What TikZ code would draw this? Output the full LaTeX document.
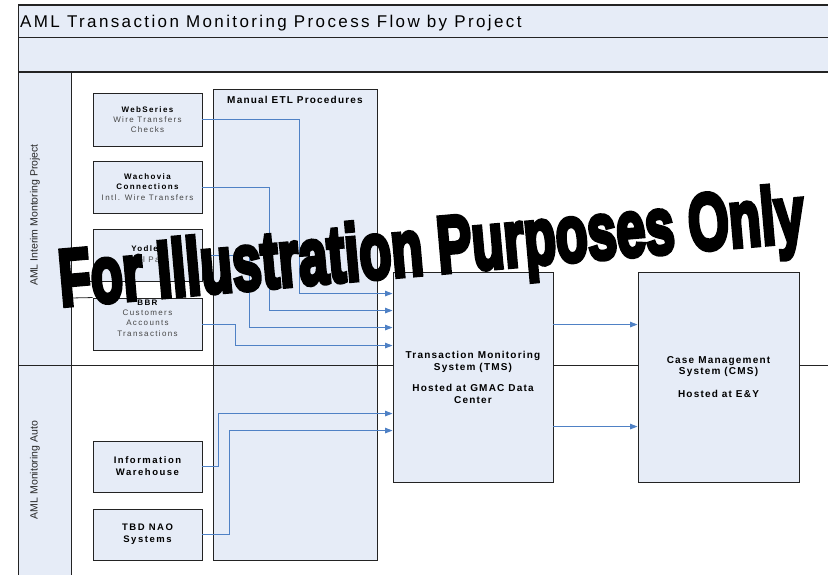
\documentclass[tikz,border=0pt]{standalone}
\usepackage{fontspec}
\setmainfont{Liberation Sans}
\newfontfamily\titlefont{Liberation Sans}[LetterSpace=14]
\newfontfamily\bigfont{Liberation Sans}[LetterSpace=12]
\newfontfamily\smallfont{Liberation Sans}[LetterSpace=17]
\newfontfamily\midfont{Liberation Sans}[LetterSpace=16]
\newfontfamily\wmfont{Liberation Sans}[BoldFeatures={FakeBold=6}]
\usetikzlibrary{arrows.meta,calc}

\definecolor{paleblue}{RGB}{230,236,247}
\definecolor{flowblue}{RGB}{79,129,197}
\definecolor{boxline}{RGB}{35,35,35}
\definecolor{subtext}{RGB}{70,70,70}

\begin{document}
\begin{tikzpicture}[x=1pt,y=-1pt,
  srcbox/.style={draw=boxline, fill=paleblue, line width=0.9pt, minimum width=109pt,
    minimum height=52pt, inner sep=0pt, align=center,
    font=\smallfont\fontsize{8}{10.3}\selectfont},
  midbox/.style={srcbox, font=\midfont\bfseries\fontsize{9.5}{12}\selectfont},
  sysbox/.style={draw=boxline, fill=paleblue, line width=0.9pt, minimum width=160pt,
    minimum height=210pt, inner sep=0pt, align=center,
    font=\bigfont\bfseries\fontsize{10}{12}\selectfont},
  lanelabel/.style={rotate=90, font=\fontsize{10.5}{12}\selectfont, text=black!85},
  flow/.style={draw=flowblue, line width=0.9pt, -{Triangle[length=7.5pt,width=5.5pt]}},
  frame/.style={draw=boxline, line width=1pt}]

\useasboundingbox (0,0) rectangle (828,575);

% header bands and lane header column
\fill[paleblue] (18,5) rectangle (828,72);
\fill[paleblue] (18,72) rectangle (71,575);
\draw[frame, line width=1.3pt] (18,5) -- (828,5);
\draw[frame] (18,38) -- (828,38);
\draw[frame, line width=1.3pt] (18,72) -- (828,72);
\draw[frame] (18,5) -- (18,575);
\draw[frame] (71,72) -- (71,575);

\node[anchor=base west, inner sep=0pt, font=\titlefont\fontsize{17}{17}\selectfont]
  (title) at (20,27.5) {AML Transaction Monitoring Process Flow by Project};

% lane labels
\node[lanelabel] (lane1) at (35,215) {AML Interim Montoring Project};
\node[lanelabel] (lane2) at (35,470) {AML Monitoring Auto};

% manual ETL container
\node[draw=boxline, fill=paleblue, line width=0.9pt, minimum width=164pt,
  minimum height=471pt, inner sep=0pt] (etl) at (295,324.5) {};
\node[font=\bigfont\bfseries\fontsize{10}{12}\selectfont] (etltitle)
  at ($(etl.north)+(0,11)$) {Manual ETL Procedures};

% lane divider
\draw[frame] (18,365) -- (828,365);

% source systems
\node[srcbox, minimum height=53pt] (web) at (147.5,119.5)
  {{\bfseries WebSeries}\\ {\color{subtext}Wire Transfers}\\ {\color{subtext}Checks}};
\node[srcbox] (wach) at (147.5,187)
  {{\bfseries Wachovia}\\ {\bfseries Connections}\\ {\color{subtext}Intl. Wire Transfers}};
\node[srcbox] (yod) at (147.5,255)
  {{\bfseries Yodlee}\\ {\color{subtext}Bill Pay}};
\node[srcbox] (bbr) at (147.5,324)
  {{\bfseries BBR}\\ {\color{subtext}Customers}\\ {\color{subtext}Accounts}\\ {\color{subtext}Transactions}\\[2pt]};
\node[midbox, minimum height=51pt] (iw) at (147.5,466.5) {Information\\ Warehouse};
\node[midbox, minimum height=51pt] (tbd) at (147.5,534.5) {TBD NAO\\ Systems};

% short rules between the lane header and the lower source boxes
\draw[frame, line width=0.8pt] (71,281) -- (yod.south west);
\draw[frame, line width=0.8pt] (71,298) -- (bbr.north west);

% monitoring and case systems
\node[sysbox] (tms) at (473,377)
  {Transaction Monitoring\\ System (TMS)\\[9pt] Hosted at GMAC Data\\ Center};
\node[sysbox, minimum width=161pt, font=\bigfont\bfseries\fontsize{10}{11.5}\selectfont]
  (cms) at (718.5,377) {Case Management\\ System (CMS)\\[11pt] Hosted at E\&Y};

% data flows
\draw[flow] (web.east) -- ++(97,0) |- ($(tms.north west)+(0,22)$);
\draw[flow] (wach.east) -- ++(67,0) |- ($(tms.north west)+(0,39)$);
\draw[flow] (yod.east) -- ++(47,0) |- ($(tms.north west)+(0,56)$);
\draw[flow] (bbr.east) -- ++(32.5,0) |- ($(tms.north west)+(0,74)$);
\draw[flow] (iw.east) -- ++(16,0) |- ($(tms.north west)+(0,142)$);
\draw[flow] (tbd.east) -- ++(26.5,0) |- ($(tms.north west)+(0,159)$);
\draw[flow] ($(tms.north east)+(0,53)$) -- ($(cms.north west)+(0,53)$);
\draw[flow] ($(tms.north east)+(0,155)$) -- ($(cms.north west)+(0,155)$);

% watermark
\node[anchor=base west, rotate=5, inner sep=0pt] (wm) at (61,306)
  {\wmfont\bfseries\fontsize{80}{80}\selectfont\scalebox{0.652}[1]{For Illustration Purposes Only}};
\end{tikzpicture}
\end{document}
